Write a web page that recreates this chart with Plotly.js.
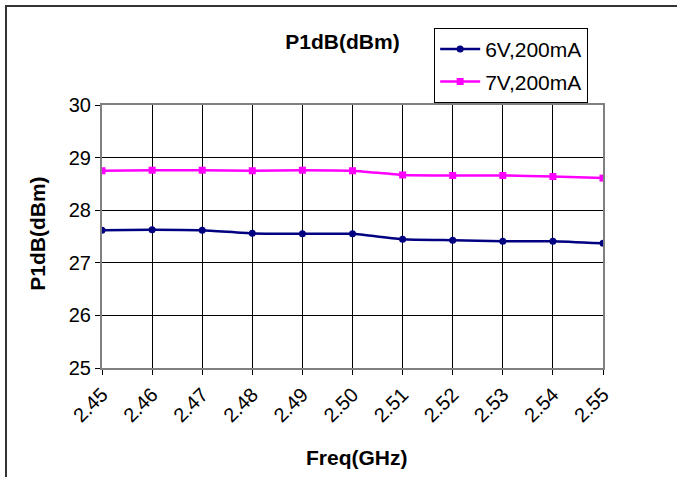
<!DOCTYPE html>
<html><head><meta charset="utf-8">
<script src="https://cdn.plot.ly/plotly-3.0.1.min.js"></script>
<style>
html,body{margin:0;padding:0;background:#fff;}
#wrap{position:relative;width:677px;height:477px;overflow:hidden;}
#chart{position:absolute;left:0;top:0;width:677px;height:477px;}
#frame{position:absolute;left:5px;top:5px;width:680px;height:480px;border-left:2px solid #333;border-top:2px solid #333;pointer-events:none;}
</style></head>
<body>
<div id="wrap"><div id="chart"></div><div id="frame"></div></div>
<script>
const freq = [2.45, 2.46, 2.47, 2.48, 2.49, 2.50, 2.51, 2.52, 2.53, 2.54, 2.55];
const p6V = [27.62, 27.63, 27.62, 27.56, 27.55, 27.55, 27.45, 27.43, 27.41, 27.41, 27.37];
const p7V = [28.75, 28.76, 28.76, 28.75, 28.76, 28.75, 28.67, 28.66, 28.66, 28.64, 28.61];
const seriesNames = ['6V,200mA', '7V,200mA'];

const FONT = 'Arial, "Liberation Sans", sans-serif';

const traces = [
  {x: freq, y: p6V, name: seriesNames[0], legendgroup: 'a', type: 'scatter', mode: 'lines+markers',
   line: {color: '#000080', width: 2.5, shape: 'spline', smoothing: 0.4},
   marker: {symbol: 'circle', size: 7, color: '#000080'}},
  {x: freq, y: p7V, name: seriesNames[1], legendgroup: 'b', type: 'scatter', mode: 'lines+markers',
   line: {color: '#FF00FF', width: 2.5, shape: 'spline', smoothing: 0.4},
   marker: {symbol: 'square', size: 7, color: '#FF00FF'}}
];

const layout = {
  width: 677, height: 477,
  margin: {l: 102, r: 74, t: 105, b: 109},
  paper_bgcolor: '#fff', plot_bgcolor: '#fff',
  font: {family: FONT, size: 20, color: '#000'},
  title: {text: '<b>P1dB(dBm)</b>', font: {size: 21}, xref: 'paper', x: 0.48, xanchor: 'center', y: 0.913, yanchor: 'middle'},
  showlegend: true,
  legend: {x: 0.663, y: 1.293, xanchor: 'left', yanchor: 'top', bordercolor: '#000', borderwidth: 1,
    bgcolor: '#fff', font: {size: 21}, tracegroupgap: 2, itemwidth: 40},
  xaxis: {range: [2.45, 2.55], tickvals: freq, tickformat: '.2f', tickangle: -45,
    showgrid: true, gridcolor: '#000', gridwidth: 1,
    showline: true, linecolor: '#808080', linewidth: 2, mirror: true,
    ticks: 'outside', ticklen: 5, tickcolor: '#000', zeroline: false},
  yaxis: {range: [25, 30], dtick: 1, showgrid: true, gridcolor: '#000', gridwidth: 1,
    showline: true, linecolor: '#808080', linewidth: 2, mirror: true,
    ticks: 'outside', ticklen: 5, tickcolor: '#000', zeroline: false},
  annotations: [
    {text: '<b>Freq(GHz)</b>', xref: 'paper', yref: 'paper', x: 0.509, y: -0.342,
     xanchor: 'center', yanchor: 'middle', showarrow: false, font: {size: 21}},
    {text: '<b>P1dB(dBm)</b>', xref: 'paper', yref: 'paper', x: -0.128, y: 0.51,
     xanchor: 'center', yanchor: 'middle', showarrow: false, textangle: -90, font: {size: 21}}
  ]
};

Plotly.newPlot('chart', traces, layout, {displayModeBar: false, staticPlot: true});
</script>
</body></html>
